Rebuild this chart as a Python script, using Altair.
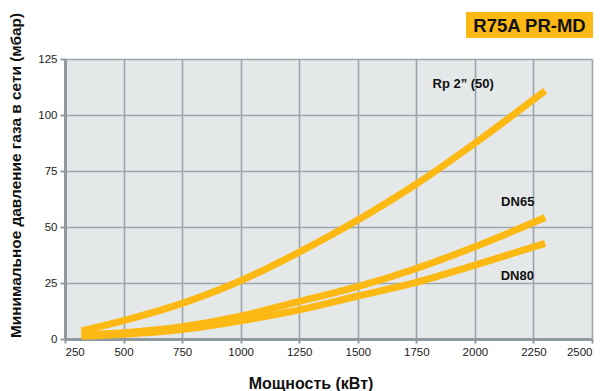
import altair as alt
import pandas as pd

# ---- data ----
power_kw = [320, 500, 750, 1000, 1250, 1500, 1750, 2000, 2300]
rp2_mbar = [3.6, 8.2, 15.9, 26.0, 38.8, 53.1, 69.2, 87.4, 110.8]
dn65_mbar = [1.8, 2.8, 5.5, 10.2, 16.8, 23.4, 31.5, 41.2, 54.2]
dn80_mbar = [1.2, 2.1, 4.2, 8.1, 13.0, 19.2, 25.3, 33.0, 42.7]
series_names = ["Rp 2\u201d (50)", "DN65", "DN80"]

label_text = ["Rp 2\u201d (50)", "DN65", "DN80"]
label_x = [1819, 2112, 2110]
label_y = [113.8, 61.3, 28.1]

x_ticks = [250, 500, 750, 1000, 1250, 1500, 1750, 2000, 2250, 2500]
y_ticks = [0, 25, 50, 75, 100, 125]

rows = []
for name, vals in zip(series_names, [rp2_mbar, dn65_mbar, dn80_mbar]):
    for x, y in zip(power_kw, vals):
        rows.append({"series": name, "kw": x, "mbar": y})
df = pd.DataFrame(rows)
labels = pd.DataFrame({"text": label_text, "kw": label_x, "mbar": label_y})

YELLOW = "#FDB913"
GRID = "#9AA6AC"
FONT = "Liberation Sans, Arial, Helvetica, sans-serif"
W, H = 527, 280

xscale = alt.Scale(domain=[250, 2500], nice=False)
yscale = alt.Scale(domain=[0, 125], nice=False)

xaxis = alt.Axis(
    values=x_ticks, format="d", grid=True, gridColor=GRID, gridWidth=1.6,
    domainColor="#8E9AA0", domainWidth=3, tickColor="#8E9AA0", tickWidth=2, tickSize=4,
    labelFont=FONT, labelFontSize=11.5, labelColor="#222222", labelPadding=3,
    title="Мощность (кВт)", titleFont=FONT, titleFontSize=16, titleFontWeight="bold",
    titleColor="#111111", titleX=245.5, titleY=44, titleBaseline="middle", titleAlign="center",
)
yaxis = alt.Axis(
    values=y_ticks, format="d", grid=True, gridColor=GRID, gridWidth=1.6,
    domainColor="#8E9AA0", domainWidth=3, tickColor="#8E9AA0", tickWidth=2, tickSize=5,
    labelFont=FONT, labelFontSize=11.5, labelColor="#222222", labelPadding=3,
    title="Минимальное давление газа в сети (мбар)", titleFont=FONT, titleFontSize=15.4,
    titleFontWeight="bold", titleColor="#111111", titleX=-50, titleY=116,
    titleBaseline="middle", titleAlign="center", titleAngle=270,
)

lines = alt.Chart(df).mark_line(
    color=YELLOW, strokeWidth=7, strokeCap="butt", interpolate="monotone"
).encode(
    x=alt.X("kw:Q", scale=xscale, axis=xaxis),
    y=alt.Y("mbar:Q", scale=yscale, axis=yaxis),
    detail="series:N",
)

texts = alt.Chart(labels).mark_text(
    font=FONT, fontSize=13, fontWeight="bold",
    color="#111111", align="left", baseline="middle",
).encode(
    x=alt.X("kw:Q", scale=xscale),
    y=alt.Y("mbar:Q", scale=yscale),
    text="text:N",
)

box = alt.Chart(alt.Data(values=[{"t": "R75A PR-MD"}])).mark_rect(
    color=YELLOW, clip=False
).encode(
    x=alt.value(401), x2=alt.value(528), y=alt.value(-47), y2=alt.value(-21)
)
box_text = alt.Chart(alt.Data(values=[{"t": "R75A PR-MD"}])).mark_text(
    font=FONT, fontSize=18.5, fontWeight="bold",
    color="#111111", align="center", baseline="middle", clip=False
).encode(
    x=alt.value(464.5), y=alt.value(-33.5), text="t:N"
)

chart = alt.layer(lines, texts, box, box_text).properties(
    width=W, height=H,
    autosize=alt.AutoSizeParams(type="none"),
    padding={"left": 57, "top": 51, "right": 6, "bottom": 52},
    background="white",
).configure_view(fill="#E4E8E9", stroke=None)

chart.save("out.html", embed_options={"renderer": "svg", "actions": False})
